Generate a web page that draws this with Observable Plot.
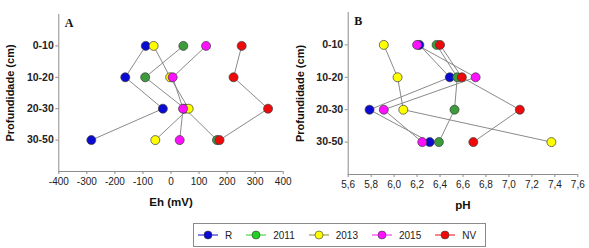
<!DOCTYPE html>
<html><head><meta charset="utf-8">
<script src="https://cdn.jsdelivr.net/npm/d3@7"></script>
<script src="https://cdn.jsdelivr.net/npm/@observablehq/plot@0.6"></script>
<style>
body{margin:0;background:#fff;}
#wrap{position:relative;width:589px;height:248px;overflow:hidden;font-family:"Liberation Sans",Arial,sans-serif;}
.panel{position:absolute;top:0;}
.panel svg{overflow:visible;}
#legend{position:absolute;left:193px;top:223px;height:22px;border:1px solid #8a8a8a;display:flex;align-items:center;padding:0 9px 0 4px;font-size:10px;color:#222;background:#fff;}
.item{display:flex;align-items:center;margin-right:14px}
.item:last-child{margin-right:0}
.item svg{margin-right:7px;display:block}
</style></head><body><div id="wrap"></div>
<script>
const depths = ["0-10", "10-20", "20-30", "30-50"];
const seriesNames = ["R", "2011", "2013", "2015", "NV"];

// Eh (mV) per depth
const ehR    = [-90, -163, -29, -284];
const eh2011 = [44, -92, 50, 164];
const eh2013 = [-62, -3, 63, -56];
const eh2015 = [125, 6, 43, 31];
const ehNV   = [252, 223, 346, 173];

// pH per depth
const phR    = [6.22, 6.485, 5.786, 6.31];
const ph2011 = [6.37, 6.55, 6.526, 6.39];
const ph2013 = [5.91, 6.03, 6.08, 7.37];
const ph2015 = [6.20, 6.71, 5.91, 6.245];
const phNV   = [6.40, 6.59, 7.095, 6.69];

const ehTicks = [-400, -300, -200, -100, 0, 100, 200, 300, 400];
const phTicks = [5.6, 5.8, 6.0, 6.2, 6.4, 6.6, 6.8, 7.0, 7.2, 7.4, 7.6];

const colors = ["#0a0ad2", "#3c9c3c", "#ffff00", "#ff10ff", "#ee0a0a"];
const legendColors = ["#0a0ad2", "#22d022", "#ffff00", "#ff10ff", "#ee0a0a"];

function rows(valuesBySeries) {
  return seriesNames.flatMap((s, i) => valuesBySeries[i].map((v, j) => ({series: s, depth: j + 1, value: v})));
}

const AXIS = "#8c8c8c";

function panel({data, domain, ticks, fmt, xLabel, letter, left, width, mt, mb, ml, mr}) {
  const chart = Plot.plot({
    width, height: 220,
    marginLeft: ml, marginRight: mr, marginTop: mt, marginBottom: mb,
    style: {fontFamily: "'Liberation Sans', Arial, sans-serif", fontSize: "10px", color: "#222", background: "transparent", overflow: "visible"},
    x: {domain, label: null},
    y: {domain: [0, 5], reverse: true, label: null},
    color: {domain: seriesNames, range: colors},
    marks: [
      Plot.ruleX([domain[0]], {stroke: AXIS}),
      Plot.ruleY([5], {stroke: AXIS}),
      Plot.axisX({ticks, tickFormat: fmt, tickSize: 3, tickPadding: 3, stroke: AXIS, fill: "#222", fontSize: 10, label: null}),
      Plot.axisY({ticks: [1, 2, 3, 4], tickFormat: d => depths[d - 1], tickSize: 3, tickPadding: 2, stroke: AXIS, fill: "#222", fontWeight: "bold", fontSize: 10.5, label: null}),
      Plot.line(data, {x: "value", y: "depth", z: "series", stroke: "#8a8a8a", strokeWidth: 1}),
      Plot.dot(data, {x: "value", y: "depth", fill: "series", r: 4.5, stroke: "#3a3a3a", strokeWidth: 0.7}),
      Plot.text([xLabel], {text: d => d, frameAnchor: "bottom", dy: 34, fontWeight: "bold", fontSize: 11.5, fill: "#111"}),
      Plot.text(["Profundidade (cm)"], {text: d => d, frameAnchor: "left", dx: -(ml - 10), rotate: -90, textAnchor: "middle", fontWeight: "bold", fontSize: 11, fill: "#111"}),
      Plot.text([letter], {text: d => d, frameAnchor: "top-left", dx: 6, dy: 4, textAnchor: "start", fontFamily: "'Liberation Serif', 'Times New Roman', serif", fontWeight: "bold", fontSize: 12, fill: "#111"})
    ]
  });
  const div = document.createElement("div");
  div.className = "panel";
  div.style.left = left + "px";
  div.appendChild(chart);
  return div;
}

const wrap = document.getElementById("wrap");
const commaFmt = d => d.toFixed(1).replace(".", ",");

wrap.appendChild(panel({
  data: rows([ehR, eh2011, eh2013, eh2015, ehNV]),
  domain: [-400, 400], ticks: ehTicks, fmt: d => String(d),
  xLabel: "Eh (mV)", letter: "A",
  left: 0, width: 300, mt: 14, mb: 49, ml: 58.3, mr: 17.3
}));

wrap.appendChild(panel({
  data: rows([phR, ph2011, ph2013, ph2015, phNV]),
  domain: [5.6, 7.6], ticks: phTicks, fmt: commaFmt,
  xLabel: "pH", letter: "B",
  left: 290, width: 299, mt: 12, mb: 46, ml: 57.7, mr: 11.7
}));

// legend
const legend = document.createElement("div");
legend.id = "legend";
seriesNames.forEach((s, i) => {
  const item = document.createElement("div");
  item.className = "item";
  const ns = "http://www.w3.org/2000/svg";
  const svg = document.createElementNS(ns, "svg");
  svg.setAttribute("width", 20); svg.setAttribute("height", 10);
  const line = document.createElementNS(ns, "line");
  line.setAttribute("x1", 0); line.setAttribute("x2", 20); line.setAttribute("y1", 5); line.setAttribute("y2", 5);
  line.setAttribute("stroke", legendColors[i] === "#ffff00" ? "#8a8a2a" : legendColors[i]);
  line.setAttribute("stroke-width", 1);
  const c = document.createElementNS(ns, "circle");
  c.setAttribute("cx", 10); c.setAttribute("cy", 5); c.setAttribute("r", 4);
  c.setAttribute("fill", legendColors[i]); c.setAttribute("stroke", "#3a3a3a"); c.setAttribute("stroke-width", 0.6);
  svg.appendChild(line); svg.appendChild(c);
  const t = document.createElement("span");
  t.textContent = s;
  item.appendChild(svg); item.appendChild(t);
  legend.appendChild(item);
});
wrap.appendChild(legend);
</script>
</body></html>
